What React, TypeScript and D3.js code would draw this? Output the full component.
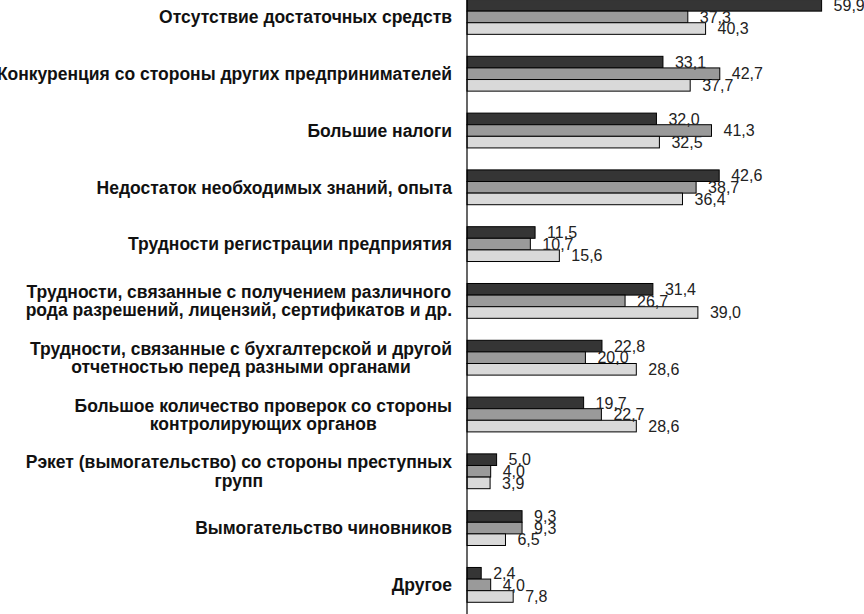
import * as d3 from 'd3';
import { useEffect, useRef } from 'react';

const categories = [
  'Отсутствие достаточных средств',
  'Конкуренция со стороны других предпринимателей',
  'Большие налоги',
  'Недостаток необходимых знаний, опыта',
  'Трудности регистрации предприятия',
  'Трудности, связанные с получением различного\nрода разрешений, лицензий, сертификатов и др.',
  'Трудности, связанные с бухгалтерской и другой\nотчетностью перед разными органами',
  'Большое количество проверок со стороны\nконтролирующих органов',
  'Рэкет (вымогательство) со стороны преступных\nгрупп',
  'Вымогательство чиновников',
  'Другое',
];

const series1 = [59.9, 33.1, 32.0, 42.6, 11.5, 31.4, 22.8, 19.7, 5.0, 9.3, 2.4];
const series2 = [37.3, 42.7, 41.3, 38.7, 10.7, 26.7, 20.0, 22.7, 4.0, 9.3, 4.0];
const series3 = [40.3, 37.7, 32.5, 36.4, 15.6, 39.0, 28.6, 28.6, 3.9, 6.5, 7.8];

const seriesColors = ['#353535', '#9a9a9a', '#d9d9d9'];

const W = 864;
const H = 614;
const axisX = 467;
const labelRight = 452;

export default function App() {
  const svgRef = useRef(null);

  useEffect(() => {
    const svg = d3.select(svgRef.current);
    svg.selectAll('*').remove();

    const allSeries = [series1, series2, series3];

    const x = d3.scaleLinear().domain([0, 60]).range([axisX, axisX + 355.2]);

    const y = d3
      .scaleBand()
      .domain(categories)
      .range([-11.5, 613.3])
      .paddingInner(0.387)
      .paddingOuter(0.194);

    const ySub = d3
      .scaleBand()
      .domain(['0', '1', '2'])
      .range([0, y.bandwidth()]);

    const font = '"Liberation Sans", Arial, sans-serif';

    // bars
    const groups = svg
      .append('g')
      .selectAll('g')
      .data(categories)
      .enter()
      .append('g')
      .attr('transform', (d) => 'translate(0,' + y(d) + ')');

    allSeries.forEach((vals, si) => {
      groups
        .append('rect')
        .attr('x', x(0))
        .attr('y', ySub(String(si)))
        .attr('width', (d, i) => x(vals[i]) - x(0))
        .attr('height', ySub.bandwidth())
        .style('fill', seriesColors[si])
        .style('stroke', '#000')
        .style('stroke-width', 1);
    });

    // value labels
    allSeries.forEach((vals, si) => {
      groups
        .append('text')
        .attr('x', (d, i) => x(vals[i]) + 12)
        .attr('y', ySub(String(si)) + ySub.bandwidth() / 2)
        .attr('dy', '0.36em')
        .style('font-family', font)
        .style('font-size', '16px')
        .style('fill', '#222')
        .text((d, i) => d3.format('.1f')(vals[i]).replace('.', ','));
    });

    // category axis line
    svg
      .append('line')
      .attr('x1', axisX)
      .attr('x2', axisX)
      .attr('y1', 0)
      .attr('y2', H)
      .style('stroke', '#000')
      .style('stroke-width', 1.2);

    // category labels
    const lineH = 18.4;
    categories.forEach((c) => {
      const lines = c.split('\n');
      const cy = y(c) + y.bandwidth() / 2;
      const t = svg
        .append('text')
        .attr('text-anchor', 'middle')
        .style('font-family', font)
        .style('font-size', '17.5px')
        .style('font-weight', 'bold')
        .style('fill', '#111');
      const spans = lines.map((ln, li) =>
        t
          .append('tspan')
          .attr('y', cy - ((lines.length - 1) * lineH) / 2 + li * lineH)
          .attr('dy', '0.36em')
          .text(ln)
      );
      const maxW = d3.max(spans, (s) => (s.node() as any).getComputedTextLength()) as number;
      spans.forEach((s) => s.attr('x', labelRight - maxW / 2));
    });
  }, []);

  return (
    <div style={{ position: 'absolute', left: 0, top: 0 }}>
      <svg ref={svgRef} width={W} height={H} style={{ display: 'block', background: '#fff' }}></svg>
    </div>
  );
}
